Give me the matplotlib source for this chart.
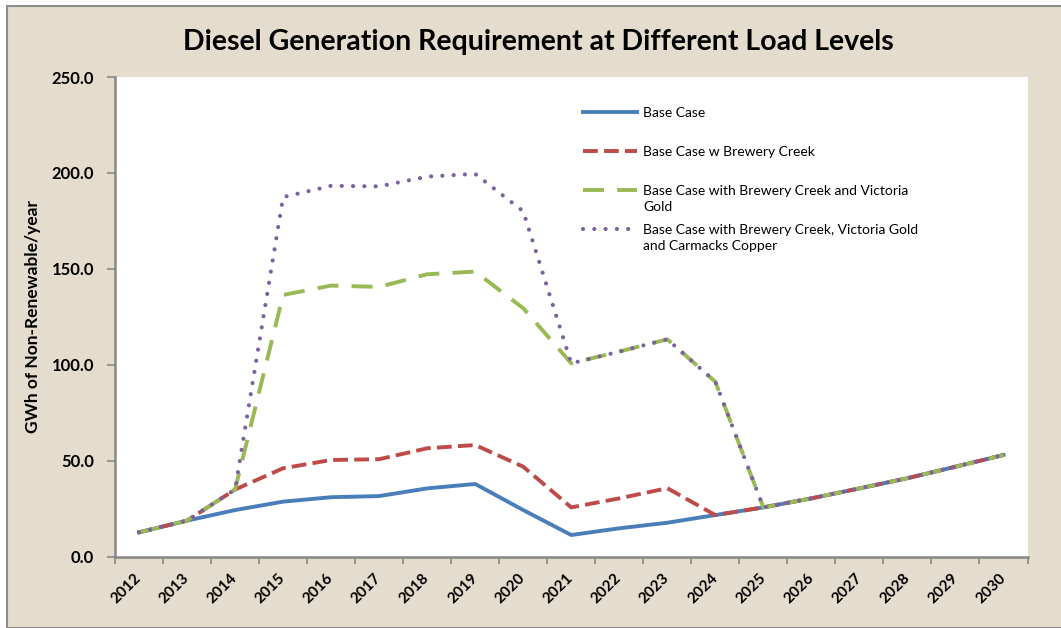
import matplotlib.pyplot as plt
from matplotlib.patches import Rectangle

# data
years = [str(y) for y in range(2012, 2031)]
base_case = [12.7, 18.8, 24.3, 28.7, 31.0, 31.6, 35.6, 37.9, 24.3, 11.3,
             14.8, 17.7, 21.7, 25.7, 30.4, 35.6, 40.9, 46.9, 53.0]
brewery = [12.7, 18.8, 35.0, 46.1, 50.4, 50.8, 56.5, 58.2, 46.9, 25.7,
           30.4, 35.7, 21.7, 25.7, 30.4, 35.6, 40.9, 46.9, 53.0]
victoria = [12.7, 18.8, 35.0, 136.4, 141.3, 140.6, 147.2, 148.6, 129.5, 100.8,
            106.9, 113.3, 91.2, 25.7, 30.4, 35.6, 40.9, 46.9, 53.0]
carmacks = [12.7, 18.8, 35.0, 187.4, 193.3, 193.0, 198.1, 199.5, 180.0, 100.8,
            106.9, 113.3, 91.2, 25.7, 30.4, 35.6, 40.9, 46.9, 53.0]

labels_first = ['Base Case', 'Base Case w Brewery Creek',
                'Base Case with Brewery Creek and Victoria',
                'Base Case with Brewery Creek, Victoria Gold']
labels_rest = ['', '', 'Gold', 'and Carmacks Copper']

plt.rcParams['font.family'] = ['Lato', 'DejaVu Sans']

W, H = 1061, 628
fig = plt.figure(figsize=(W / 100, H / 100), dpi=100, facecolor='white')
# beige chart area with grey border on left/top
fig.patches.append(Rectangle((7 / W, 0), 1, 1 - 6 / H, transform=fig.transFigure,
                             facecolor='#e4dccd', edgecolor='#8c8c8c', linewidth=1.5,
                             zorder=-1))

ax = fig.add_axes([115 / W, (H - 556.7) / H, (1027.5 - 115) / W, (556.7 - 77) / H])
ax.set_facecolor('white')

x = list(range(len(years)))
grey = '#868686'

l1, = ax.plot(x, base_case, color='#4a7ebb', lw=2.8, solid_joinstyle='round')
l2, = ax.plot(x, brewery, color='#be4b48', lw=2.8, dashes=(3.8, 1.6),
              dash_capstyle='butt')
l3, = ax.plot(x, victoria, color='#98b954', lw=2.8, dashes=(5.4, 3.4),
              dash_capstyle='butt')
l4, = ax.plot(x, carmacks, color='#7d60a0', lw=3.0, dashes=(0.01, 2.7),
              dash_capstyle='round')

ax.set_xlim(-0.5, len(years) - 0.5)
ax.set_ylim(0, 250)
ax.set_yticks([0, 50, 100, 150, 200, 250])
ax.set_yticklabels([f'{v:.1f}' for v in [0, 50, 100, 150, 200, 250]],
                   fontsize=12, fontweight='bold')

# category labels at centres, tick marks between categories
ax.set_xticks(x)
ax.set_xticklabels(years, rotation=45, ha='right', va='center',
                   rotation_mode='anchor', fontsize=11, fontweight='bold')
ax.tick_params(axis='x', which='major', length=0, pad=14)
ax.set_xticks([i - 0.5 for i in range(len(years) + 1)], minor=True)
ax.tick_params(axis='x', which='minor', length=5, color=grey, width=1.2)
ax.tick_params(axis='y', length=6, color=grey, width=1.2, pad=9)

for s in ['top', 'right']:
    ax.spines[s].set_visible(False)
for s in ['left', 'bottom']:
    ax.spines[s].set_color(grey)
    ax.spines[s].set_linewidth(1.8)

ax.set_ylabel('GWh of Non-Renewable/year', fontsize=12.5, fontweight='bold')
ax.yaxis.set_label_coords(-0.081, 0.5)

fig.text(538 / W, 1 - 42 / H, 'Diesel Generation Requirement at Different Load Levels',
         ha='center', va='center', fontsize=20.5, fontweight='bold')

leg = ax.legend([l1, l2, l3, l4], labels_first, loc='upper left',
                bbox_to_anchor=((583 - 115) / 912.5, (556.7 - 107) / 479.7),
                frameon=False, fontsize=10, handlelength=3.9, handletextpad=0.45,
                labelspacing=1.95, borderpad=0, borderaxespad=0)

# wrapped continuation lines of the long legend labels
for txt, extra in zip(leg.get_texts(), labels_rest):
    if extra:
        ax.annotate(extra, xy=(0, 0), xycoords=txt, xytext=(0, -3),
                    textcoords='offset points', va='top', ha='left',
                    fontsize=10, zorder=6)

fig.savefig('out.png', dpi=100, facecolor=fig.get_facecolor())
